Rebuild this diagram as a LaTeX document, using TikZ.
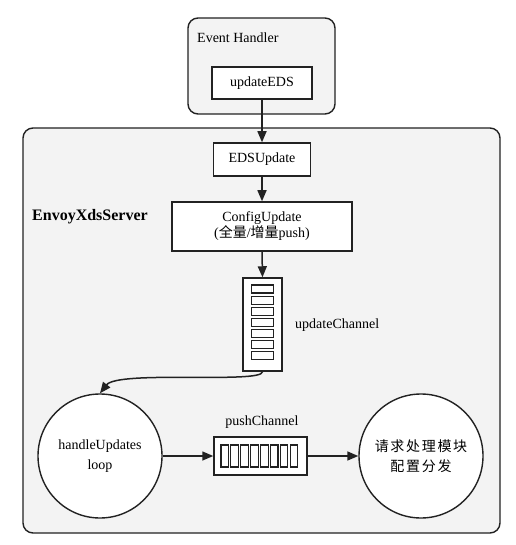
\documentclass[tikz,border=0pt]{standalone}
\usepackage{fontspec}
\setmainfont{Liberation Serif}
\newfontfamily\cjk[LetterSpace=12]{Noto Sans CJK SC}
\newfontfamily\cjkn{Noto Sans CJK SC}
\usetikzlibrary{arrows.meta}
\definecolor{linec}{HTML}{222222}
\definecolor{bgc}{HTML}{F3F3F3}
\tikzset{
  cluster/.style={draw=linec, line width=1.4pt, fill=bgc, rounded corners=10pt},
  box/.style={draw=linec, line width=1.5pt, fill=white, rectangle, inner sep=0pt, font=\fontsize{14}{16}\selectfont, align=center},
  slot/.style={draw=linec, line width=1.1pt, fill=white},
  circ/.style={draw=linec, line width=1.4pt, fill=white, circle, minimum size=124pt, inner sep=0pt, font=\fontsize{14}{20}\selectfont, align=center},
  lbl/.style={font=\fontsize{14}{16}\selectfont, inner sep=0pt},
  arr/.style={draw=linec, line width=1.5pt, -{Triangle[length=11pt,width=9pt]}},
}
\begin{document}
\begin{tikzpicture}[x=1pt,y=-1pt]
\useasboundingbox (0,0) rectangle (515,545);
% clusters
\draw[cluster] (188,18) rectangle (335,114);
\node[lbl, anchor=west] (ehl) at (197,38) {Event Handler};
\draw[cluster] (23,128) rectangle (500,533);
\node[font=\fontsize{16}{18}\selectfont\bfseries, inner sep=0pt, anchor=west] (exs) at (32,217) {EnvoyXdsServer};
% nodes
\node[box, minimum width=100pt, minimum height=32pt] (ueds) at (262,83) {updateEDS};
\node[box, minimum width=97pt, minimum height=33pt] (edsu) at (262,159.5) {EDSUpdate};
\node[box, minimum width=180pt, minimum height=49pt] (cu) at (262,226.5) {ConfigUpdate\\({\cjkn 全量}/{\cjkn 增量}push)};
\node[box, minimum width=39pt, minimum height=93pt] (uc) at (262.5,324.5) {};
\foreach \i in {0,...,6} {
  \draw[slot] (251.5,285+\i*11.1) rectangle (273.5,293+\i*11.1);
}
\node[lbl, anchor=west] (ucl) at (295,325) {updateChannel};
\node[circ] (hu) at (100,456) {handleUpdates\\loop};
\node[box, minimum width=93pt, minimum height=38pt] (pc) at (260.5,456) {};
\foreach \i in {0,...,7} {
  \draw[slot] (221+\i*9.9,445) rectangle (228.5+\i*9.9,467);
}
\node[lbl] (pcl) at (262,422) {pushChannel};
\node[circ] (rq) at (421,456) {{\cjk 请求处理模块}\\{\cjk 配置分发}};
% connectors
\draw[arr] (ueds.south) -- (edsu.north);
\draw[arr] (edsu.south) -- (cu.north);
\draw[arr] (cu.south) -- (uc.north);
\draw[arr] (uc.south) .. controls (262,384) and (118,370) .. (hu.north);
\draw[arr] (hu.east) -- (pc.west);
\draw[arr] (pc.east) -- (rq.west);
\end{tikzpicture}
\end{document}
